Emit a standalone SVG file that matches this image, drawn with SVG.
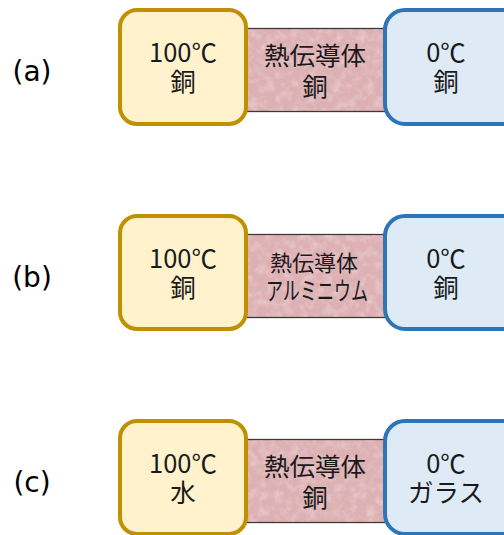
<svg xmlns="http://www.w3.org/2000/svg" width="504" height="535" viewBox="0 0 504 535">
<defs>
<filter id="tex" x="0" y="0" width="100%" height="100%">
<feTurbulence type="fractalNoise" baseFrequency="0.12" numOctaves="3" seed="5" result="n"/>
<feColorMatrix in="n" type="matrix" values="0 0 0 0 0.95  0 0 0 0 0.85  0 0 0 0 0.86  0 0 0 1.4 -0.6" result="c"/>
<feComposite in="c" in2="SourceGraphic" operator="in"/>
</filter>
</defs>
<style>
.lbl{font-family:"DejaVu Sans",sans-serif;font-size:28px;fill:#000;text-anchor:middle}
.t{font-family:"Noto Sans CJK JP",sans-serif;font-size:25.5px;fill:#1a1a1a;text-anchor:middle}
.ts{font-family:"Noto Sans CJK JP",sans-serif;font-size:22px;fill:#1a1a1a;text-anchor:middle}
.tk{font-family:"Noto Sans CJK JP",sans-serif;font-size:25px;fill:#1a1a1a;text-anchor:middle}
.hot{fill:#FFF2CC;stroke:#BF9000;stroke-width:4}
.cold{fill:#DEEBF7;stroke:#2E75B6;stroke-width:4}
.mid{fill:#DDB1B4;stroke:#3A3A3A;stroke-width:1.3}
.noise{fill:#fff;filter:url(#tex);opacity:0.6}
</style>
<text class="lbl" x="32" y="81">(a)</text>
<text class="lbl" x="32" y="287">(b)</text>
<text class="lbl" x="32" y="492">(c)</text>
<g id="conductor-a"><rect class="mid" x="240" y="28.5" width="146" height="83"/><rect class="noise" x="241" y="29" width="144" height="82"/><text class="t" x="315" y="65">熱伝導体</text><text class="t" x="315" y="96">銅</text></g>
<g id="hot-a"><rect class="hot" x="120" y="10" width="126" height="114" rx="17"/><text class="t" x="183" y="62">100℃</text><text class="t" x="183" y="91">銅</text></g>
<g id="cold-a"><rect class="cold" x="385" y="10" width="140" height="114" rx="20"/><text class="t" x="446" y="62">0℃</text><text class="t" x="446" y="91">銅</text></g>

<g id="conductor-b"><rect class="mid" x="240" y="234.5" width="146" height="83"/><rect class="noise" x="241" y="235" width="144" height="82"/><text class="ts" x="314" y="271">熱伝導体</text><text class="tk" x="317" y="300" textLength="102" lengthAdjust="spacingAndGlyphs">アルミニウム</text></g>
<g id="hot-b"><rect class="hot" x="120" y="216" width="126" height="113" rx="17"/><text class="t" x="183" y="268">100℃</text><text class="t" x="183" y="297">銅</text></g>
<g id="cold-b"><rect class="cold" x="385" y="216" width="140" height="113" rx="20"/><text class="t" x="446" y="268">0℃</text><text class="t" x="446" y="297">銅</text></g>

<g id="conductor-c"><rect class="mid" x="240" y="439.5" width="146" height="83"/><rect class="noise" x="241" y="440" width="144" height="82"/><text class="t" x="315" y="476">熱伝導体</text><text class="t" x="315" y="507">銅</text></g>
<g id="hot-c"><rect class="hot" x="120" y="421" width="126" height="113" rx="17"/><text class="t" x="183" y="473">100℃</text><text class="t" x="183" y="502">水</text></g>
<g id="cold-c"><rect class="cold" x="385" y="421" width="140" height="113" rx="20"/><text class="t" x="446" y="473">0℃</text><text class="t" x="446" y="502">ガラス</text></g>
<g id="connectors"/>
</svg>
